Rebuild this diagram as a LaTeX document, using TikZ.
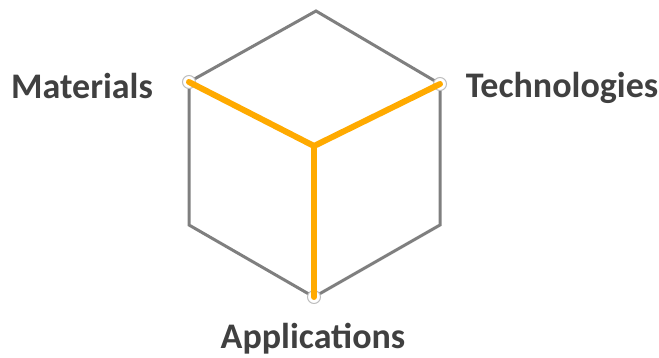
\documentclass[tikz,border=0pt]{standalone}
\usepackage{fontspec}
\setmainfont{Carlito}
\begin{document}
\begin{tikzpicture}[x=1pt,y=-1pt,
  edge/.style={draw=edgegray,line width=3pt,line join=miter},
  axis/.style={draw=axisorange,line width=6pt,line cap=round},
  dot/.style={circle,draw=dotgray,fill=white,line width=1pt,minimum size=13pt,inner sep=0pt},
  lbl/.style={font=\fontsize{36}{40}\selectfont\bfseries,text=labelgray,inner sep=0pt}]
\definecolor{edgegray}{HTML}{7F7F7F}
\definecolor{axisorange}{HTML}{FFAA00}
\definecolor{dotgray}{HTML}{BEBEBE}
\definecolor{labelgray}{HTML}{404040}
\useasboundingbox (0,0) rectangle (659,358);
\coordinate (top) at (316,11);
\coordinate (ul) at (189,82);
\coordinate (ur) at (440,84);
\coordinate (c) at (314,146);
\coordinate (ll) at (189,225);
\coordinate (lr) at (440,225);
\coordinate (bot) at (314,297);
\draw[edge] (ll) -- (ul) -- (top) -- (ur) -- (lr) -- (bot) -- cycle;
\node[dot] (mat) at (ul) {};
\node[dot] (tech) at (ur) {};
\node[dot] (app) at (bot) {};
\draw[axis,line join=miter] (mat.center) -- (c) -- (tech.center);
\draw[axis] (c) -- (app.center);
\node[lbl] (matl) at (82,86) {Materials};
\node[lbl] (techl) at (562,88) {Technologies};
\node[lbl] (appl) at (313,339) {Applications};
\end{tikzpicture}
\end{document}
